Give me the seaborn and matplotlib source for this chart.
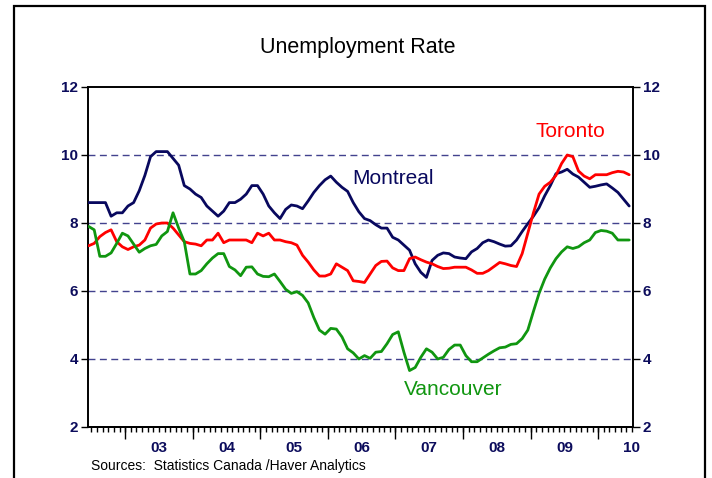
import matplotlib.pyplot as plt
import matplotlib.patches as mpatches
import numpy as np
import pandas as pd
import seaborn as sns

# monthly unemployment rates, mid-2002 .. mid-2010
montreal = [
    8.6, 8.6, 8.6, 8.6, 8.2, 8.3, 8.3, 8.5, 8.6, 8.95,
    9.4, 9.95, 10.1, 10.1, 10.1, 9.9, 9.7, 9.1, 9.0, 8.85,
    8.75, 8.5, 8.35, 8.2, 8.35, 8.6, 8.6, 8.7, 8.85, 9.1,
    9.1, 8.85, 8.5, 8.3, 8.13, 8.4, 8.53, 8.5, 8.42, 8.65,
    8.9, 9.1, 9.27, 9.38, 9.2, 9.05, 8.93, 8.6, 8.33, 8.13,
    8.07, 7.95, 7.85, 7.85, 7.58, 7.5, 7.35, 7.2, 6.8, 6.55,
    6.4, 6.9, 7.05, 7.12, 7.1, 7.0, 6.97, 6.95, 7.15, 7.25,
    7.42, 7.5, 7.45, 7.38, 7.32, 7.33, 7.5, 7.75, 7.98, 8.2,
    8.45, 8.8, 9.1, 9.45, 9.5, 9.58, 9.44, 9.35, 9.2, 9.05,
    9.08, 9.12, 9.15, 9.03, 8.9, 8.7, 8.5,
]
toronto = [
    7.33, 7.4, 7.6, 7.72, 7.8, 7.45, 7.3, 7.22, 7.3, 7.35,
    7.5, 7.85, 7.97, 8.0, 8.0, 7.85, 7.65, 7.45, 7.4, 7.38,
    7.33, 7.5, 7.5, 7.7, 7.42, 7.5, 7.5, 7.5, 7.5, 7.42,
    7.7, 7.62, 7.7, 7.5, 7.5, 7.45, 7.42, 7.35, 7.05, 6.85,
    6.62, 6.44, 6.44, 6.5, 6.8, 6.7, 6.6, 6.3, 6.28, 6.25,
    6.5, 6.75, 6.87, 6.88, 6.68, 6.6, 6.6, 6.95, 7.0, 6.92,
    6.85, 6.8, 6.72, 6.66, 6.67, 6.7, 6.7, 6.7, 6.62, 6.52,
    6.52, 6.6, 6.72, 6.84, 6.8, 6.75, 6.72, 7.1, 7.7, 8.3,
    8.85, 9.08, 9.2, 9.4, 9.75, 10.0, 9.95, 9.53, 9.38, 9.3,
    9.42, 9.42, 9.42, 9.48, 9.52, 9.5, 9.42,
]
vancouver = [
    7.9, 7.8, 7.02, 7.02, 7.12, 7.4, 7.7, 7.62, 7.38, 7.14,
    7.25, 7.33, 7.37, 7.62, 7.75, 8.3, 7.85, 7.45, 6.5, 6.5,
    6.6, 6.8, 6.97, 7.1, 7.1, 6.72, 6.62, 6.45, 6.7, 6.71,
    6.5, 6.43, 6.42, 6.5, 6.28, 6.05, 5.93, 5.98, 5.87, 5.65,
    5.22, 4.85, 4.73, 4.9, 4.88, 4.65, 4.3, 4.18, 4.0, 4.1,
    4.02, 4.2, 4.22, 4.45, 4.72, 4.8, 4.2, 3.66, 3.75, 4.05,
    4.3, 4.2, 4.0, 4.05, 4.28, 4.41, 4.41, 4.1, 3.92, 3.92,
    4.03, 4.14, 4.24, 4.33, 4.35, 4.43, 4.45, 4.6, 4.85, 5.4,
    5.93, 6.35, 6.68, 6.95, 7.15, 7.3, 7.25, 7.3, 7.42, 7.5,
    7.72, 7.78, 7.76, 7.7, 7.5, 7.5, 7.5,
]
years = [2003, 2004, 2005, 2006, 2007, 2008, 2009, 2010]
year_labels = ["03", "04", "05", "06", "07", "08", "09", "10"]
y_ticks = [2, 4, 6, 8, 10, 12]
grid_levels = [4, 6, 8, 10]

navy = "#0c0c5c"
colors = {"Montreal": "#08085e", "Toronto": "#ff0000", "Vancouver": "#109610"}

sns.set_style("ticks")
plt.rcParams["font.family"] = ["Liberation Sans", "DejaVu Sans"]

n = len(montreal)
dates = 2002 + (5.5 + np.arange(n)) / 12
df = pd.DataFrame({
    "date": np.tile(dates, 3),
    "rate": montreal + toronto + vancouver,
    "city": ["Montreal"] * n + ["Toronto"] * n + ["Vancouver"] * n,
})

fig = plt.figure(figsize=(7.12, 4.78), dpi=100)
ax = fig.add_axes([88 / 712, 51 / 478, 545 / 712, 340 / 478])

for lv in grid_levels:
    ax.axhline(lv, color="#42428e", lw=1.0, dashes=(5, 3.2), zorder=1)

sns.lineplot(data=df, x="date", y="rate", hue="city", palette=colors,
             linewidth=2.0, legend=False, sort=False, ax=ax, zorder=3)

ax.set_xlim(2002.45, 2010.515)
ax.set_ylim(2, 12)
ax.set_xlabel("")
ax.set_ylabel("")

ax.set_yticks(y_ticks)
ax.set_yticklabels([str(v) for v in y_ticks])
ax.tick_params(axis="y", which="major", direction="out", length=5, width=1.0,
               color="black", left=True, right=True, labelleft=True, labelright=True,
               labelsize=11, labelcolor=navy, pad=2)
for lab in ax.get_yticklabels():
    lab.set_fontweight("bold")

for sp in ax.spines.values():
    sp.set_color("black")
    sp.set_linewidth(1.4)

# x axis: short monthly ticks on the main axis
ax.set_xticks(np.arange(2002 + 6 / 12, 2010.55, 1 / 12))
ax.set_xticklabels([])
ax.tick_params(axis="x", which="major", direction="out", length=3.3, width=1.0,
               color="black", bottom=True, top=False)

# long ticks at the year boundaries on a second bottom axis
sec = ax.secondary_xaxis("bottom")
sec.set_xticks(years)
sec.set_xticklabels([])
sec.tick_params(axis="x", which="major", direction="out", length=8.5, width=1.0,
                color="black")
sec.spines["bottom"].set_color("black")
sec.spines["bottom"].set_linewidth(1.4)

xtrans = ax.get_xaxis_transform()
for yr, lab in zip(years, year_labels):
    ax.text(yr + 0.5, -0.062, lab, transform=xtrans, ha="center", va="center",
            fontsize=11, fontweight="bold", color=navy)

# series labels
ax.text(2006.966, 9.3, "Montreal", color=colors["Montreal"], fontsize=15,
        ha="center", va="center")
ax.text(2009.587, 10.7, "Toronto", color=colors["Toronto"], fontsize=15,
        ha="center", va="center")
ax.text(2007.856, 3.09, "Vancouver", color=colors["Vancouver"], fontsize=15,
        ha="center", va="center")

fig.text(358 / 712, 1 - 47 / 478, "Unemployment Rate", fontsize=15.5,
         ha="center", va="center", color="black")
fig.text(91 / 712, 1 - 466 / 478, "Sources:  Statistics Canada /Haver Analytics",
         fontsize=10, ha="left", va="center", color="black")

frame = mpatches.Rectangle((14 / 712, -0.05), (705 - 14) / 712, 1.05 - 6 / 478,
                           transform=fig.transFigure, fill=False, lw=1.6,
                           edgecolor="black", clip_on=False)
fig.patches.append(frame)

fig.savefig("out.png", dpi=100)
